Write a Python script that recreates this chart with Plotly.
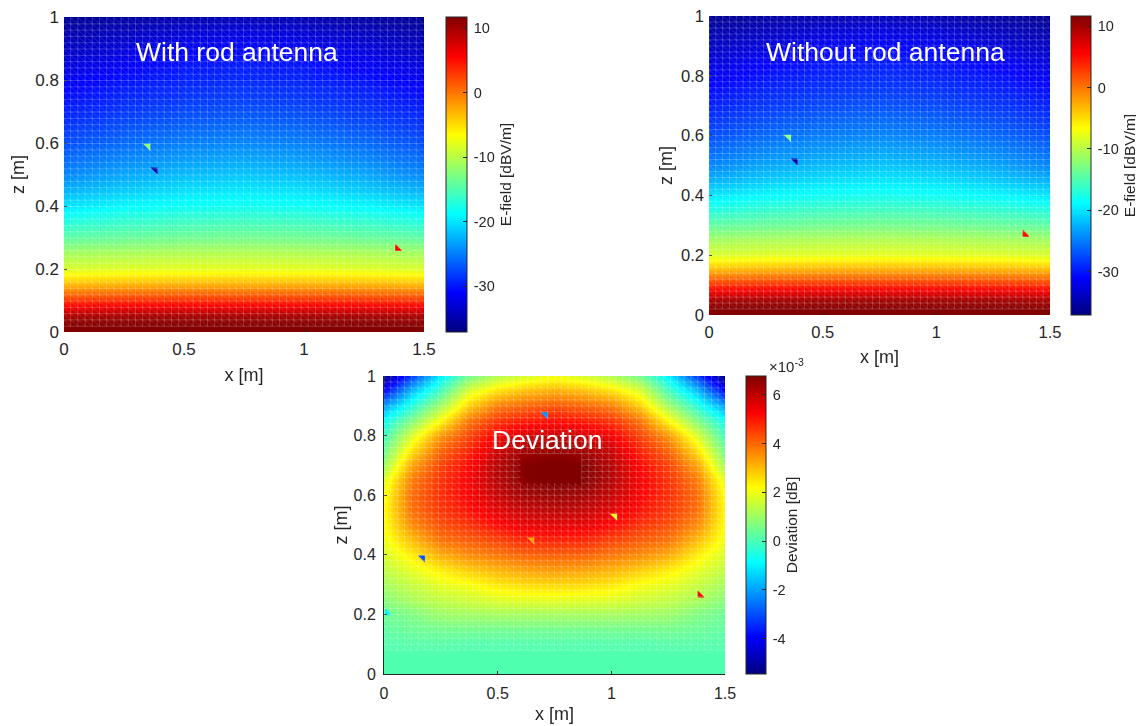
import plotly.graph_objects as go

PAGE_W, PAGE_H = 1144, 726
MARGIN = 8                       # the page body keeps its default margin
W, H = PAGE_W - MARGIN, PAGE_H - MARGIN


def px(v):
    return (v - MARGIN) / W


def py(v):
    return 1 - (v - MARGIN) / H


# ---------- data ----------
x_field = [0, 0.25, 0.5, 0.75, 1.0, 1.25, 1.5]
z_field = [0, .025, .05, .1, .15, .2, .25, .3, .35, .4, .45, .5, .55, .6, .65, .7, .75, .8, .85, .9, .95, 1.0]

efield_with = [
    [11.7, 11.7, 11.7, 11.7, 11.7, 11.7, 11.7],
    [11.4, 11.5, 11.5, 11.5, 11.5, 11.5, 11.4],
    [9.8, 10.0, 10.0, 10.0, 10.0, 10.0, 9.8],
    [3.5, 3.8, 3.9, 3.9, 3.9, 3.8, 3.5],
    [-3.0, -2.7, -2.5, -2.5, -2.5, -2.7, -3.0],
    [-8.4, -8.0, -7.8, -7.7, -7.8, -8.0, -8.4],
    [-11.0, -10.6, -10.3, -10.2, -10.3, -10.6, -11.0],
    [-14.3, -13.8, -13.4, -13.2, -13.4, -13.8, -14.3],
    [-17.2, -16.4, -15.9, -15.7, -15.9, -16.4, -17.2],
    [-20.0, -19.0, -18.4, -18.1, -18.4, -19.0, -20.0],
    [-22.6, -21.3, -20.3, -19.9, -20.3, -21.3, -22.6],
    [-24.6, -23.0, -22.0, -21.5, -22.0, -23.0, -24.6],
    [-26.0, -24.6, -23.6, -23.1, -23.6, -24.6, -26.0],
    [-27.4, -26.0, -25.0, -24.6, -25.0, -26.0, -27.4],
    [-28.6, -27.3, -26.4, -25.9, -26.4, -27.3, -28.6],
    [-29.6, -28.5, -27.6, -27.2, -27.6, -28.5, -29.6],
    [-30.6, -29.4, -28.7, -28.3, -28.7, -29.4, -30.6],
    [-31.7, -30.3, -29.5, -29.1, -29.5, -30.3, -31.7],
    [-32.8, -31.4, -30.3, -29.9, -30.3, -31.4, -32.8],
    [-34.0, -32.7, -31.5, -31.0, -31.5, -32.7, -34.0],
    [-35.0, -34.0, -33.0, -32.4, -33.0, -34.0, -35.0],
    [-36.3, -35.6, -35.0, -34.6, -35.0, -35.6, -36.3],
]
# The two field maps differ by about 0.007 dB, which cannot be read off the picture.
efield_without = efield_with

x_dev = [0, .125, .25, .375, .5, .625, .75, .875, 1.0, 1.125, 1.25, 1.375, 1.5]
z_dev = [0, .05, .1, .15, .2, .25, .3, .35, .4, .45, .5, .55, .6, .65, .7, .75, .8, .85, .9, .95, 1.0]
deviation_e3 = [
    [.08, .08, .08, .08, .08, .08, .08, .08, .08, .08, .08, .08, .08],
    [.08, .08, .08, .08, .08, .08, .08, .08, .08, .08, .08, .08, .08],
    [.1, .15, .15, .1, .1, .1, .1, .1, .1, .1, .15, .15, .1],
    [.25, .4, .5, .5, .5, .5, .5, .5, .5, .5, .5, .4, .25],
    [.4, .65, 1.0, 1.05, 1.1, 1.1, 1.1, 1.1, 1.1, 1.05, 1.0, .65, .4],
    [.75, 1.15, 1.45, 1.6, 1.8, 1.85, 1.9, 1.85, 1.8, 1.6, 1.45, 1.15, .75],
    [1.1, 1.5, 1.9, 2.1, 2.45, 2.6, 2.65, 2.6, 2.45, 2.1, 1.9, 1.5, 1.1],
    [1.4, 1.9, 2.4, 2.8, 3.1, 3.3, 3.4, 3.3, 3.1, 2.8, 2.4, 1.9, 1.4],
    [1.7, 2.4, 3.2, 3.6, 3.85, 4.1, 4.15, 4.1, 3.85, 3.6, 3.2, 2.4, 1.7],
    [2.0, 3.0, 3.9, 4.2, 4.5, 4.85, 4.9, 4.85, 4.5, 4.2, 3.9, 3.0, 2.0],
    [2.15, 3.6, 4.35, 4.7, 5.2, 5.5, 5.55, 5.5, 5.2, 4.7, 4.35, 3.6, 2.15],
    [2.2, 3.95, 4.65, 5.1, 5.6, 5.95, 6.05, 5.95, 5.6, 5.1, 4.65, 3.95, 2.2],
    [2.1, 4.0, 4.75, 5.3, 5.95, 6.35, 6.45, 6.35, 5.95, 5.3, 4.75, 4.0, 2.1],
    [1.8, 3.8, 4.7, 5.35, 6.15, 6.7, 6.85, 6.75, 6.15, 5.35, 4.7, 3.8, 1.8],
    [1.0, 3.3, 4.5, 5.2, 6.15, 6.75, 6.85, 6.75, 6.15, 5.2, 4.5, 3.3, 1.0],
    [.45, 2.6, 4.1, 4.9, 5.9, 6.4, 6.5, 6.4, 5.9, 4.9, 4.1, 2.6, .45],
    [-.1, 1.8, 3.5, 4.5, 5.4, 5.8, 5.95, 5.8, 5.4, 4.5, 3.5, 1.8, -.1],
    [-.7, .7, 2.3, 3.9, 4.7, 5.0, 5.15, 5.0, 4.7, 3.9, 2.3, .7, -.7],
    [-2.0, -.4, 1.1, 2.8, 3.8, 4.1, 4.3, 4.1, 3.8, 2.8, 1.1, -.4, -2.0],
    [-3.9, -1.6, 0.0, 1.8, 2.6, 3.0, 3.2, 3.0, 2.6, 1.8, 0.0, -1.6, -3.9],
    [-5.4, -3.2, -1.0, .5, 1.3, 1.7, 2.0, 1.7, 1.3, .5, -1.0, -3.2, -5.4],
]

# stray mesh facets: position, value and symbol, one set per panel
stray1_x, stray1_z, stray1_v = [.35, .38, 1.39], [.59, .515, .265], [-12.0, -35.0, 5.5]
stray2_x, stray2_z, stray2_v = [.35, .38, 1.39], [.595, .515, .27], [-12.0, -35.0, 5.5]
stray1_s = ["triangle-ne", "triangle-ne", "triangle-sw"]
stray3_x = [.71, 1.015, .65, .17, .015, 1.39]
stray3_z = [.87, .53, .45, .39, .205, .265]
stray3_v = [-2.2, 1.9, 3.3, -3.0, -1.0, 5.3]
stray3_s = ["triangle-ne", "triangle-ne", "triangle-ne", "triangle-ne", "triangle-sw", "triangle-sw"]

field_range = (-37.1, 11.7)
dev_range = (-5.45, 6.77)
field_ticks = [-30, -20, -10, 0, 10]
dev_ticks = [-4, -2, 0, 2, 4, 6]
x_ticks, x_labels = [0, .5, 1, 1.5], ["0", "0.5", "1", "1.5"]
z_ticks, z_labels = [0, .2, .4, .6, .8, 1], ["0", "0.2", "0.4", "0.6", "0.8", "1"]

# ---------- style ----------
JET = [[0, "rgb(0,0,128)"], [.125, "rgb(0,0,255)"], [.375, "rgb(0,255,255)"],
       [.625, "rgb(255,255,0)"], [.875, "rgb(255,0,0)"], [1, "rgb(128,0,0)"]]
FONT = "Liberation Sans"
TXT = "#262626"


def mesh(zmin=0.0, hole=None):
    """Regular triangular mesh drawn over the colour map (50 x 50 cells)."""
    dx, dz = 0.03, 0.02
    gx, gz, dgx, dgz = [], [], [], []
    for i in range(50):
        for j in range(50):
            x0, x1 = i * dx, (i + 1) * dx
            z0, z1 = j * dz, (j + 1) * dz
            if z0 < zmin - 1e-9:
                continue
            if hole and hole[0] <= x0 and x1 <= hole[1] and hole[2] <= z0 and z1 <= hole[3]:
                continue
            gx += [x0, x1, None, x0, x0, None]
            gz += [z0, z0, None, z0, z1, None]
            dgx += [x0, x1, None]
            dgz += [z1, z0, None]
    return gx, gz, dgx, dgz


panels = [
    dict(box=(64, 424, 17, 332), cb=(446, 21), x=x_field, y=z_field, z=efield_with, rng=field_range, ticks=field_ticks,
         cbt="E-field [dBV/m]", stray=(stray1_x, stray1_z, stray1_v, stray1_s), mesh=mesh(zmin=0.02), line=False,
         fs=17, xso=10, yso=6),
    dict(box=(709, 1050, 16, 315), cb=(1071, 20), x=x_field, y=z_field, z=efield_without, rng=field_range,
         ticks=field_ticks, cbt="E-field [dBV/m]", stray=(stray2_x, stray2_z, stray2_v, stray1_s),
         mesh=mesh(zmin=0.02), line=False, fs=16.5, xso=10, yso=3),
    dict(box=(384, 725, 376, 674), cb=(746, 20), x=x_dev, y=z_dev, z=deviation_e3, rng=dev_range, ticks=dev_ticks,
         cbt="Deviation [dB]", stray=(stray3_x, stray3_z, stray3_v, stray3_s),
         mesh=mesh(zmin=0.08, hole=(0.6, 0.87, 0.64, 0.74)), line=True, fs=16, xso=6, yso=1),
]

fig = go.Figure()
layout = {}
for n, p in enumerate(panels, start=1):
    L, R, T, B = p["box"]
    sx = "x" if n == 1 else f"x{n}"
    sy = "y" if n == 1 else f"y{n}"
    keyx = "xaxis" if n == 1 else f"xaxis{n}"
    keyy = "yaxis" if n == 1 else f"yaxis{n}"
    fig.add_trace(go.Heatmap(
        x=p["x"], y=p["y"], z=p["z"], zsmooth="best", colorscale=JET,
        zmin=p["rng"][0], zmax=p["rng"][1], xaxis=sx, yaxis=sy,
        colorbar=dict(
            x=px(p["cb"][0]), xanchor="left", xpad=0, thickness=p["cb"][1], thicknessmode="pixels",
            y=py(T), yanchor="top", ypad=0, len=(B - T) / H, lenmode="fraction",
            tickmode="array", tickvals=p["ticks"], ticktext=["\u2009" + str(t) for t in p["ticks"]],
            ticks="inside", ticklen=4, tickcolor="#262626", tickwidth=1,
            outlinecolor="#262626", outlinewidth=1,
            tickfont=dict(family=FONT, size=14.5, color=TXT),
            title=dict(text=p["cbt"], side="right", font=dict(family=FONT, size=15.5, color=TXT)),
        ),
    ))
    gx, gz, dgx, dgz = p["mesh"]
    fig.add_trace(go.Scattergl(x=gx, y=gz, mode="lines", xaxis=sx, yaxis=sy, hoverinfo="skip", showlegend=False,
                               line=dict(color="rgba(255,255,255,0.2)", width=1)))
    fig.add_trace(go.Scattergl(x=dgx, y=dgz, mode="lines", xaxis=sx, yaxis=sy, hoverinfo="skip", showlegend=False,
                               line=dict(color="rgba(255,255,255,0.11)", width=1)))
    fig.add_trace(go.Scatter(
        x=p["stray"][0], y=p["stray"][1], mode="markers", xaxis=sx, yaxis=sy, showlegend=False,
        marker=dict(symbol=p["stray"][3], size=8, color=p["stray"][2], colorscale=JET,
                    cmin=p["rng"][0], cmax=p["rng"][1], line=dict(width=0), showscale=False),
    ))
    tickfont = dict(family=FONT, size=p["fs"], color=TXT)
    lay_common = dict(
        showgrid=False, zeroline=False, ticks="inside", ticklen=3, tickcolor=TXT,
        showline=p["line"], linecolor=TXT, linewidth=1, tickfont=tickfont, automargin=False,
        ticklabeloverflow="allow",
    )
    layout[keyx] = dict(
        domain=[px(L), px(R)], range=[0, 1.5], anchor=sy, ticklabelstandoff=5,
        tickmode="array", tickvals=x_ticks, ticktext=x_labels,
        title=dict(text="x [m]", font=dict(family=FONT, size=18, color=TXT), standoff=p["xso"]),
        **lay_common,
    )
    layout[keyy] = dict(
        domain=[py(B), py(T)], range=[0, 1], anchor=sx, ticklabelstandoff=4,
        tickmode="array", tickvals=z_ticks, ticktext=z_labels,
        title=dict(text="z [m]", font=dict(family=FONT, size=18, color=TXT), standoff=p["yso"]),
        **lay_common,
    )

labels = [("With rod antenna", 237, 52), ("Without rod antenna", 885, 52), ("Deviation", 547, 440)]
ann = [dict(text=t, x=px(a), y=py(b), xref="paper", yref="paper", showarrow=False, xanchor="center",
            yanchor="middle", font=dict(family=FONT, size=26.5, color="white")) for t, a, b in labels]
ann.append(dict(text="×10<sup>-3</sup>", x=px(767), y=py(365), xref="paper", yref="paper", showarrow=False,
                xanchor="left", yanchor="middle", font=dict(family=FONT, size=15, color=TXT)))

fig.update_layout(width=W, height=H, autosize=False,
                  margin=dict(l=0, r=0, t=0, b=0, autoexpand=False),
                  paper_bgcolor="white", plot_bgcolor="white", showlegend=False, annotations=ann, **layout)
fig.write_html("out.html")
